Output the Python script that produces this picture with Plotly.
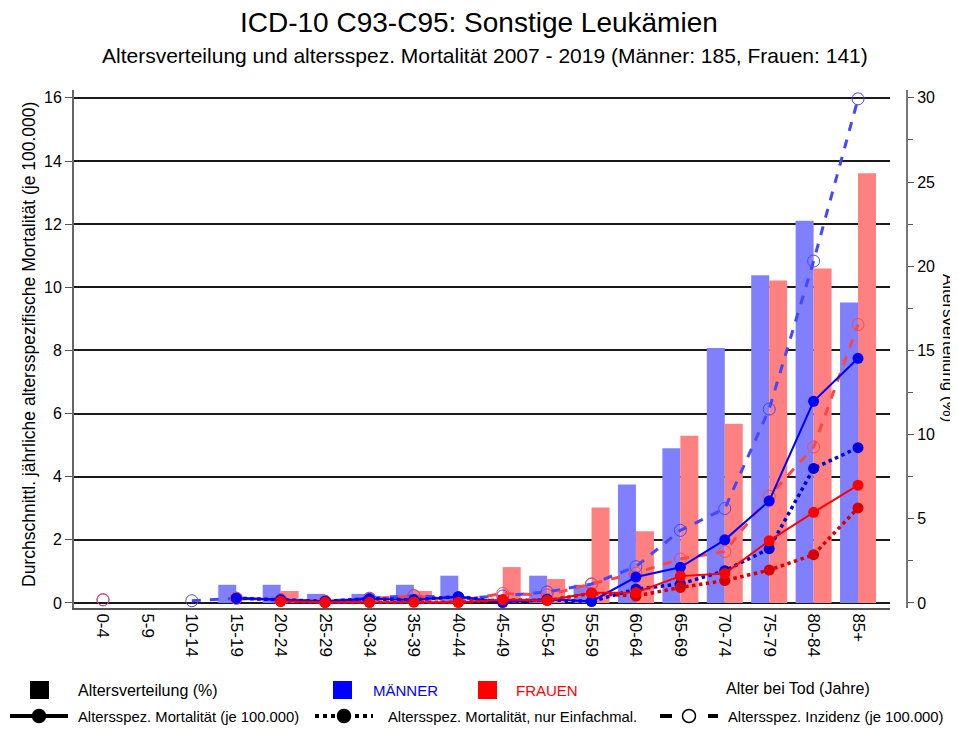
import plotly.graph_objects as go

# ---------------- data ----------------
age_groups = ["0-4", "5-9", "10-14", "15-19", "20-24", "25-29", "30-34", "35-39", "40-44",
              "45-49", "50-54", "55-59", "60-64", "65-69", "70-74", "75-79", "80-84", "85+"]

# Altersverteilung (%) of deaths
men_dist = [0, 0, 0, 1.08, 1.08, 0.54, 0.54, 1.08, 1.62, 0, 1.62, 1.08,
            7.03, 9.19, 15.14, 19.46, 22.70, 17.84]
women_dist = [0, 0, 0, 0, 0.71, 0, 0, 0.71, 0, 2.13, 1.42, 5.67,
              4.26, 9.93, 10.64, 19.15, 19.86, 25.53]

# Altersspez. Mortalität (je 100.000)
men_mort = [None, None, None, 0.15, 0.10, 0.05, 0.13, 0.10, 0.20, 0.02, 0.12, 0.05,
            0.82, 1.13, 2.00, 3.23, 6.39, 7.75]
women_mort = [None, None, None, None, 0.05, 0.02, 0.02, 0.03, 0.02, 0.10, 0.08, 0.32,
              0.33, 0.85, 0.93, 1.97, 2.87, 3.73]

# Altersspez. Mortalität, nur Einfachmalignome
men_mort_single = [None, None, None, 0.15, 0.10, 0.05, 0.13, 0.10, 0.20, 0.02, 0.10, 0.05,
                   0.44, 0.60, 1.02, 1.72, 4.26, 4.92]
women_mort_single = [None, None, None, None, 0.05, 0.02, 0.02, 0.03, 0.02, 0.10, 0.08, 0.30,
                     0.22, 0.49, 0.71, 1.04, 1.53, 3.01]

# Altersspez. Inzidenz (je 100.000)
men_inc = [0.10, None, 0.07, 0.15, 0.10, 0.05, 0.15, 0.23, 0.15, 0.22, 0.35, 0.60,
           1.15, 2.30, 2.99, 6.14, 10.83, 15.97]
women_inc = [0.10, None, None, 0.15, 0.10, 0.05, 0.13, 0.23, 0.07, 0.30, 0.25, 0.60,
             0.95, 1.39, 1.63, 3.38, 4.94, 8.82]

title = "ICD-10 C93-C95: Sonstige Leukämien"
subtitle = "Altersverteilung und altersspez. Mortalität 2007 - 2019 (Männer: 185, Frauen: 141)"

# ---------------- styling ----------------
FONT = "Liberation Sans, Arial, sans-serif"
OFF = 8  # page body margin of the html page
W, H = 958 - OFF, 729 - OFF
L, R, T, B = 74 - OFF, 51, 90 - OFF, 121
PW, PH = W - L - R, H - T - B


def px(x):  # reference pixel -> paper
    return (x - 74) / PW


def py(y):
    return (608 - y) / PH


BLUE = "#0000FF"
RED = "#FF0000"
BLUE_BAR = "#8080FF"
RED_BAR = "#FF8080"
BLUE_INC = "#4646FF"
RED_INC = "#FF4646"
BLUE_DOT = "#0000D8"
RED_DOT = "#D80000"

fig = go.Figure()

# bars on base axis (right, %)
fig.add_trace(go.Bar(x=age_groups, y=men_dist, marker=dict(color=BLUE_BAR, line=dict(width=0)),
                     offsetgroup="m", yaxis="y", name="Männer"))
fig.add_trace(go.Bar(x=age_groups, y=women_dist, marker=dict(color=RED_BAR, line=dict(width=0)),
                     offsetgroup="w", yaxis="y", name="Frauen"))


def line(yv, color, dash, width, symbol, size, lw):
    return go.Scatter(x=age_groups, y=yv, mode="lines+markers", yaxis="y2",
                      line=dict(color=color, dash=dash, width=width),
                      marker=dict(color=color, symbol=symbol, size=size,
                                  line=dict(color=color, width=lw)),
                      connectgaps=False, showlegend=False)


fig.add_trace(line(men_inc, BLUE_INC, "dash", 3, "circle-open", 12, 1))
fig.add_trace(line(women_inc, RED_INC, "dash", 3, "circle-open", 12, 1))
fig.add_trace(line(men_mort_single, BLUE_DOT, "dot", 3.5, "circle", 11, 0))
fig.add_trace(line(women_mort_single, RED_DOT, "dot", 3.5, "circle", 11, 0))
fig.add_trace(line(men_mort, BLUE, "solid", 2, "circle", 11, 0))
fig.add_trace(line(women_mort, RED, "solid", 2, "circle", 11, 0))

left_range = [-0.16, 16.25]
right_range = [v * 1.875 for v in left_range]

fig.update_layout(
    width=W, height=H,
    margin=dict(l=L, r=R, t=T, b=B, pad=0),
    paper_bgcolor="white", plot_bgcolor="white",
    showlegend=False,
    barmode="group", bargap=0.19, bargroupgap=0,
    font=dict(family=FONT, color="black", size=16),
    xaxis=dict(domain=[0, (890 - 74) / PW], type="category", range=[-0.653, 17.72],
               tickangle=90, showgrid=False, showline=True, linecolor="#555", linewidth=2,
               ticks="", tickfont=dict(size=17), zeroline=False),
    yaxis=dict(side="right", anchor="free", position=1.0, range=right_range,
               tickvals=[0, 5, 10, 15, 20, 25, 30], ticks="outside", ticklen=6,
               tickcolor="#555", showline=True, linecolor="#777", linewidth=2,
               showgrid=False, zeroline=False, tickfont=dict(size=16),
               minor=dict(dtick=2.5, tick0=0, ticks="outside", ticklen=5, tickcolor="#555",
                          showgrid=False)),
    yaxis2=dict(overlaying="y", side="left", anchor="x", range=left_range,
                tickvals=[0, 2, 4, 6, 8, 10, 12, 14, 16], ticks="outside", ticklen=7,
                tickcolor="#555", showline=True, linecolor="#666", linewidth=2,
                showgrid=True, gridcolor="#1a1a1a", gridwidth=1.5, zeroline=False,
                tickfont=dict(size=16)),
)

ann = []
ann.append(dict(text=title, x=px(479), y=py(22), xref="paper", yref="paper", showarrow=False,
                font=dict(size=28, family=FONT), xanchor="center", yanchor="middle"))
ann.append(dict(text=subtitle, x=px(485), y=py(55), xref="paper", yref="paper", showarrow=False,
                font=dict(size=21, family=FONT), xanchor="center", yanchor="middle"))
ann.append(dict(text="Durchschnittl. jährliche altersspezifische Mortalität (je 100.000)",
                x=px(29), y=py(345), xref="paper", yref="paper", showarrow=False,
                textangle=-90, font=dict(size=17.5, family=FONT), xanchor="center", yanchor="middle"))
ann.append(dict(text="Altersverteilung (%)", x=px(949), y=py(348), xref="paper", yref="paper",
                showarrow=False, textangle=90, font=dict(size=17, family=FONT),
                xanchor="center", yanchor="middle"))

# custom legend
shapes = []


def text(t, x, y, size, color="black"):
    ann.append(dict(text=t, x=px(x), y=py(y), xref="paper", yref="paper", showarrow=False,
                    font=dict(size=size, family=FONT, color=color), xanchor="left", yanchor="middle"))


def square(x0, x1, y0, y1, color):
    shapes.append(dict(type="rect", xref="paper", yref="paper", x0=px(x0), x1=px(x1),
                       y0=py(y1), y1=py(y0), fillcolor=color, line=dict(width=0)))


square(30, 49, 681, 699, "black")
text("Altersverteilung (%)", 76, 690, 16)
square(333, 352, 681, 699, "#0000FF")
text("MÄNNER", 371, 690, 15, "#0000FF")
square(478, 497, 681, 699, "#FF0000")
text("FRAUEN", 514, 690, 15, "#FF0000")
text("Alter bei Tod (Jahre)", 724, 688, 16)


def leg_line(x0, x1, y, dash, open_marker):
    shapes.append(dict(type="line", xref="paper", yref="paper", x0=px(x0), x1=px(x1),
                       y0=py(y), y1=py(y), line=dict(color="black", width=4, dash=dash)))
    cx = (x0 + x1) / 2
    r = 6.5
    shapes.append(dict(type="circle", xref="paper", yref="paper", x0=px(cx - r), x1=px(cx + r),
                       y0=py(y + r), y1=py(y - r),
                       fillcolor="white" if open_marker else "black",
                       line=dict(color="black", width=1.5)))


leg_line(10, 68, 716, "solid", False)
text("Altersspez. Mortalität (je 100.000)", 76, 717, 14.8)
leg_line(315, 373, 716, "dot", False)
text("Altersspez. Mortalität, nur Einfachmal.", 386, 717, 14.8)
leg_line(660, 718, 716, "dash", True)
text("Altersspez. Inzidenz (je 100.000)", 726, 717, 14.8)

fig.update_layout(annotations=ann, shapes=shapes)

fig.write_html("out.html")
